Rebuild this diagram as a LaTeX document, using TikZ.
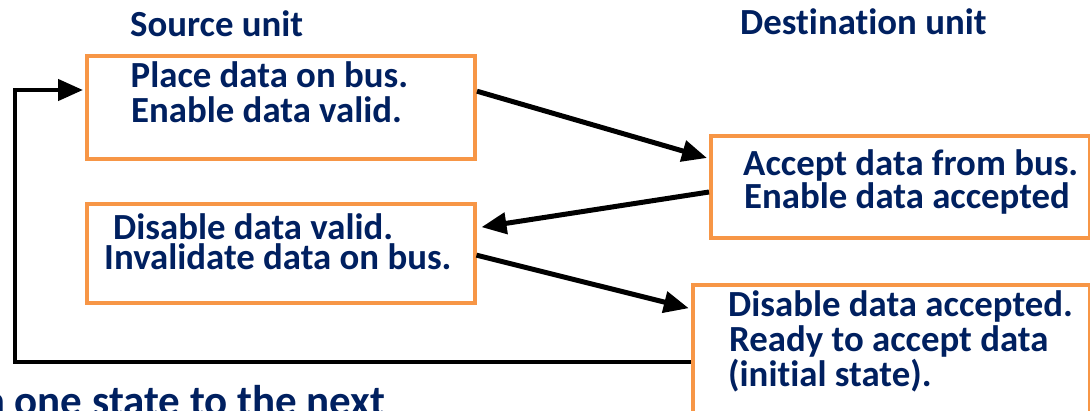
\documentclass[tikz,border=0pt]{standalone}
\usepackage{fontspec}
\setmainfont[Ligatures=NoCommon]{Carlito}
\usetikzlibrary{arrows.meta}
\definecolor{navy}{HTML}{002060}
\definecolor{boxorange}{HTML}{F79646}
\begin{document}
\begin{tikzpicture}[x=1pt,y=-1pt,
  statebox/.style={draw=boxorange, line width=4pt, fill=white, inner sep=0pt, anchor=north west},
  txt/.style={font=\fontsize{36.8}{35}\selectfont\bfseries, text=navy, inner sep=0pt, anchor=base west},
  bigtxt/.style={font=\fontsize{43}{45}\selectfont\bfseries, text=navy, inner sep=0pt, anchor=base west},
  flow/.style={line width=5pt, -{Triangle[length=25pt,width=21pt]}},
  loop/.style={line width=4.5pt, -{Triangle[length=25pt,width=21pt]}}]
\useasboundingbox (0,0) rectangle (1090,410);
\clip (0,0) rectangle (1090,410);
% titles
\node[txt] (src) at (130,36) {Source unit};
\node[txt] (dst) at (740,34.5) {Destination unit};
% boxes
\node[statebox, minimum width=388pt, minimum height=103pt] (b1) at (85,53.7) {};
\node[statebox, minimum width=378.5pt, minimum height=102pt] (b2) at (709,134) {};
\node[statebox, minimum width=387.5pt, minimum height=99.3pt] (b3) at (85,201.5) {};
\node[statebox, minimum width=396.7pt, minimum height=160pt] (b4) at (690.8,283.2) {};
% texts
\node[txt] (t1a) at (130.5,87) {Place data on bus.};
\node[txt] (t1b) at (131,122) {Enable data valid.};
\node[txt] (t2a) at (743,175) {Accept data from bus.};
\node[txt] (t2b) at (744,208.3) {Enable data accepted};
\node[txt, align=left] (t3) at (104,269.3) {\hspace*{9pt}Disable data valid.\\[-5pt]Invalidate data on bus.};
\node[txt] (t4a) at (728,316.7) {Disable data accepted.};
\node[txt] (t4b) at (729,351.7) {Ready to accept data};
\node[txt] (t4c) at (728,386.7) {(initial state).};
\node[bigtxt] (bottom) at (-81.6,415) {from one state to the next};
% connectors
\coordinate (loopx) at (15,200);
\draw[flow] ([yshift=16pt]b1.east) -- ([xshift=-2pt,yshift=29pt]b2.west);
\draw[flow] ([yshift=-5pt]b2.west) -- ([xshift=5pt,yshift=26pt]b3.east);
\draw[flow] ([yshift=-2pt]b3.east) -- ([xshift=-2pt,yshift=-25pt]b4.north west);
\draw[loop] ([yshift=-79pt]b4.north west) -| (loopx) |- ([xshift=-2pt,yshift=-36.3pt]b1.north west);
\end{tikzpicture}
\end{document}
